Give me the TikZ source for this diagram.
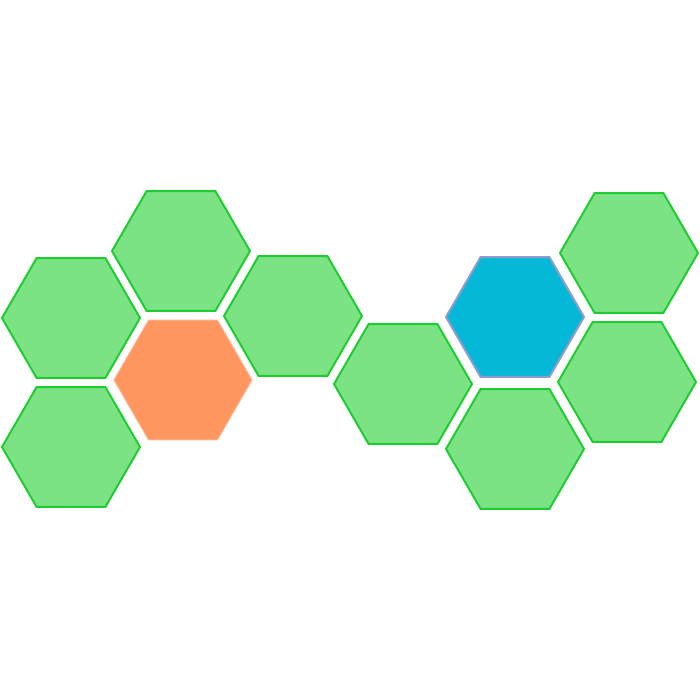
\documentclass[tikz,border=0pt]{standalone}
\usepackage{xcolor}
\usepackage{tikz}
\usetikzlibrary{shapes.geometric}

\definecolor{leafgreen}{HTML}{7BE383}
\definecolor{edgegreen}{HTML}{1FCC32}
\definecolor{warmorange}{HTML}{FF9660}
\definecolor{coolblue}{HTML}{06B8D8}
\definecolor{blueedge}{HTML}{8D9CCB}

\begin{document}
\begin{tikzpicture}[
    hexcell/.style={regular polygon, regular polygon sides=6,
                    minimum size=138pt, inner sep=0pt, line width=2pt},
    plain/.style={hexcell, fill=leafgreen, draw=edgegreen},
    hot/.style={hexcell, fill=warmorange, draw=warmorange!70!white, line width=1pt},
    cold/.style={hexcell, fill=coolblue, draw=blueedge},
    x=1pt, y=-1pt
  ]
  \useasboundingbox (0,0) rectangle (700,700);
  % green cells
  \foreach \n/\x/\y in {a/71/318, b/181/251, c/71/447, d/293/316,
                        e/403/384, f/515/449, g/629/253, h/627/382} {
    \node[plain] (hex-\n) at (\x, \y) {};
  }
  % highlighted cells
  \node[hot] (hex-hot) at (183, 380) {};
  \node[cold] (hex-cold) at (515, 317) {};
\end{tikzpicture}
\end{document}
